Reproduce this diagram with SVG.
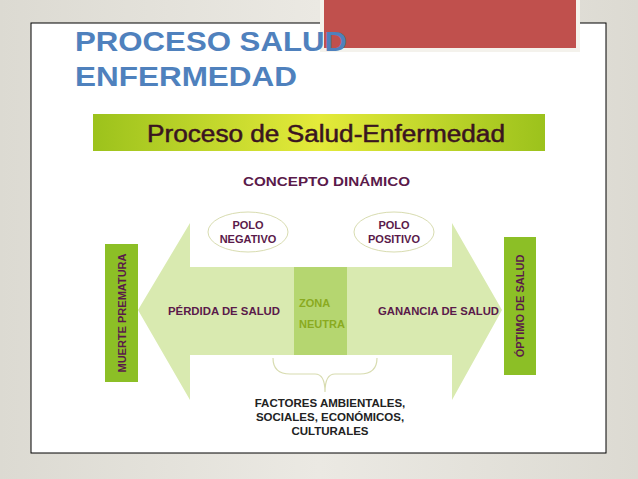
<svg xmlns="http://www.w3.org/2000/svg" width="638" height="479" viewBox="0 0 638 479">
<defs>
<linearGradient id="bg" x1="0" y1="0" x2="1" y2="0"><stop offset="0" stop-color="#dcdad2"/><stop offset="0.5" stop-color="#ebe9e3"/><stop offset="1" stop-color="#dcdad2"/></linearGradient>
<linearGradient id="ban" x1="0" y1="0" x2="1" y2="0"><stop offset="0" stop-color="#9cc21c"/><stop offset="0.5" stop-color="#e4ea3a"/><stop offset="1" stop-color="#9cc21c"/></linearGradient>
<style>
.t{font-family:"Liberation Sans",Arial,sans-serif;font-weight:bold}
.p{fill:#5a1a4a;font-size:11px}
.g{fill:#8aaa20;font-size:11px}
.k{fill:#222;font-size:11.5px}
</style>
</defs>
<rect width="638" height="479" fill="url(#bg)"/>
<rect x="31" y="23" width="575" height="430" fill="#fff" stroke="#000" stroke-width="1"/>
<rect x="322" y="-2" width="256" height="52" fill="#c0504d" stroke="#f4f2ec" stroke-width="4"/>
<text class="t" x="75" y="51" font-size="28" fill="#4f81bd" textLength="272" lengthAdjust="spacingAndGlyphs">PROCESO SALUD</text>
<text class="t" x="75" y="86" font-size="28" fill="#4f81bd" textLength="222" lengthAdjust="spacingAndGlyphs">ENFERMEDAD</text>
<g id="banner"><rect x="93" y="114" width="452" height="37" fill="url(#ban)"/>
<text x="147" y="142" font-family="Liberation Sans,Arial,sans-serif" font-size="23" fill="#3a1420" textLength="358" lengthAdjust="spacingAndGlyphs" stroke="#3a1420" stroke-width="0.5">Proceso de Salud-Enfermedad</text></g>
<text class="t" x="243" y="186" font-size="12" fill="#5a1a4a" textLength="167" lengthAdjust="spacingAndGlyphs">CONCEPTO DINÁMICO</text>
<g id="arrow"><path d="M138 310 L190 223 L190 267 L452 267 L452 223 L502 310 L452 400 L452 355 L190 355 L190 400 Z" fill="#d9eab0"/>
<rect x="294" y="267" width="53" height="88" fill="#b5d670"/>
<text class="t p" x="168" y="315" textLength="112" lengthAdjust="spacingAndGlyphs">PÉRDIDA DE SALUD</text>
<text class="t p" x="378" y="315" textLength="121" lengthAdjust="spacingAndGlyphs">GANANCIA DE SALUD</text>
<text class="t g" x="299" y="307">ZONA</text>
<text class="t g" x="299" y="328">NEUTRA</text></g>
<g id="muerte"><rect x="105" y="244" width="33" height="138" fill="#8cbf26"/>
<text class="t p" transform="translate(126 313) rotate(-90)" text-anchor="middle">MUERTE PREMATURA</text></g>
<g id="optimo"><rect x="504" y="237" width="32" height="138" fill="#8cbf26"/>
<text class="t p" transform="translate(524 306) rotate(-90)" text-anchor="middle">ÓPTIMO DE SALUD</text></g>
<g id="neg"><ellipse cx="248" cy="232" rx="40" ry="20" fill="#fff" stroke="#d8dcb0"/>
<text class="t p" x="248" y="229" text-anchor="middle">POLO</text><text class="t p" x="248" y="243" text-anchor="middle">NEGATIVO</text></g>
<g id="pos"><ellipse cx="394" cy="232" rx="40" ry="20" fill="#fff" stroke="#d8dcb0"/>
<text class="t p" x="394" y="229" text-anchor="middle">POLO</text><text class="t p" x="394" y="243" text-anchor="middle">POSITIVO</text></g>
<g id="connectors"><path d="M273 358 Q273 374 290 374 L315 374 Q325 374 325 392 Q325 374 335 374 L360 374 Q377 374 377 358" fill="none" stroke="#d8dcb0" stroke-width="1.2"/></g>
<g id="factores"><text class="t k" x="330" y="407" text-anchor="middle">FACTORES AMBIENTALES,</text>
<text class="t k" x="330" y="421" text-anchor="middle">SOCIALES, ECONÓMICOS,</text>
<text class="t k" x="330" y="435" text-anchor="middle">CULTURALES</text></g>
</svg>
